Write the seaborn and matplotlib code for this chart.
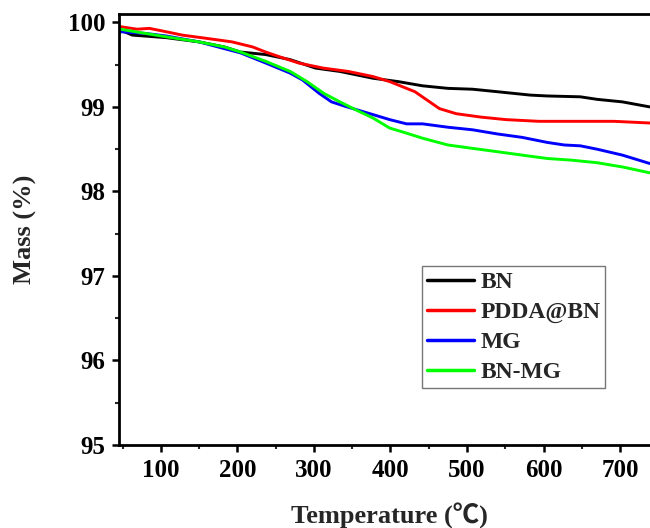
import numpy as np
import pandas as pd
import matplotlib
matplotlib.use("Agg")
import matplotlib.pyplot as plt
from matplotlib.ticker import MultipleLocator
import seaborn as sns

# ---- data ----
bn_T = [47, 63, 107, 150, 183, 204, 237, 269, 302, 334, 377, 410, 442, 475, 507, 540, 583, 605, 648, 670, 703, 739]
bn_m = [99.91, 99.85, 99.82, 99.77, 99.71, 99.65, 99.62, 99.56, 99.46, 99.42, 99.34, 99.30, 99.25, 99.22, 99.21, 99.18, 99.14, 99.13, 99.12, 99.09, 99.06, 99.00]

pdda_T = [47, 69, 85, 107, 128, 161, 193, 220, 237, 253, 280, 312, 345, 377, 399, 432, 448, 464, 486, 518, 551, 594, 648, 692, 739]
pdda_m = [99.95, 99.92, 99.93, 99.89, 99.85, 99.81, 99.77, 99.71, 99.65, 99.60, 99.52, 99.46, 99.42, 99.36, 99.30, 99.18, 99.08, 98.98, 98.92, 98.88, 98.85, 98.83, 98.83, 98.83, 98.81]

mg_T = [47, 80, 107, 150, 183, 204, 237, 269, 285, 307, 323, 340, 377, 399, 421, 442, 475, 507, 540, 572, 605, 627, 648, 670, 703, 739]
mg_m = [99.89, 99.87, 99.84, 99.77, 99.69, 99.64, 99.52, 99.40, 99.32, 99.16, 99.06, 99.01, 98.91, 98.85, 98.80, 98.80, 98.76, 98.73, 98.68, 98.64, 98.58, 98.55, 98.54, 98.50, 98.43, 98.33]

bnmg_T = [47, 80, 107, 150, 183, 204, 237, 269, 291, 313, 334, 356, 377, 399, 421, 442, 475, 507, 540, 572, 605, 637, 670, 703, 739]
bnmg_m = [99.92, 99.87, 99.83, 99.77, 99.71, 99.65, 99.54, 99.42, 99.30, 99.16, 99.06, 98.96, 98.87, 98.75, 98.69, 98.63, 98.55, 98.51, 98.47, 98.43, 98.39, 98.37, 98.34, 98.29, 98.22]

series = ["BN", "PDDA@BN", "MG", "BN-MG"]
colors = ["#000000", "#FF0000", "#0000FF", "#00FF00"]
x_label = "Temperature (\u2103)"
y_label = "Mass (%)"

frames = []
for name, T, m in zip(series, [bn_T, pdda_T, mg_T, bnmg_T], [bn_m, pdda_m, mg_m, bnmg_m]):
    frames.append(pd.DataFrame({"T": T, "m": m, "sample": name}))
df = pd.concat(frames, ignore_index=True)

sns.set_style("white")
plt.rcParams["font.family"] = ["Liberation Serif", "DejaVu Serif"]
plt.rcParams["font.weight"] = "bold"

fig = plt.figure(figsize=(6.5, 5.28), dpi=100)
ax = fig.add_axes([0.1838, 0.1572, 0.8162, 0.8163])

sns.lineplot(data=df, x="T", y="m", hue="sample", hue_order=series,
             palette=dict(zip(series, colors)), linewidth=2.1, ax=ax,
             estimator=None, sort=True)

ax.set_xlim(46, 739)
ax.set_ylim(95, 100.1)
ax.xaxis.set_major_locator(MultipleLocator(100))
ax.xaxis.set_minor_locator(MultipleLocator(50))
ax.yaxis.set_major_locator(MultipleLocator(1))
ax.yaxis.set_minor_locator(MultipleLocator(0.5))

for s in ["left", "bottom", "top"]:
    ax.spines[s].set_linewidth(2.0)
    ax.spines[s].set_color("black")
ax.spines["right"].set_visible(False)

ax.tick_params(which="major", direction="out", length=5, width=1.8,
               labelsize=18, pad=5, colors="black", bottom=True, left=True)
ax.tick_params(which="minor", direction="out", length=3, width=1.5,
               bottom=True, left=True)
for lab in ax.get_xticklabels() + ax.get_yticklabels():
    lab.set_fontweight("bold")

ax.set_xlabel(x_label, fontsize=19, fontweight="bold",
              family=["Liberation Serif", "Noto Sans CJK SC", "DejaVu Serif"])
ax.set_ylabel(y_label, fontsize=19, fontweight="bold")
ax.xaxis.set_label_coords(0.508, -0.135)
ax.yaxis.set_label_coords(-0.155, 0.5)

leg = ax.legend(loc="upper left", bbox_to_anchor=(0.570, 0.415), borderaxespad=0,
                frameon=True, fancybox=False, handlelength=2.0,
                handletextpad=0.25, labelspacing=0.36, borderpad=0.22,
                prop={"weight": "bold", "size": 17})
leg.get_frame().set_edgecolor("#555555")
leg.get_frame().set_linewidth(1.0)
for h in leg.get_lines():
    h.set_linewidth(2.5)

fig.savefig("out.png", dpi=100)
